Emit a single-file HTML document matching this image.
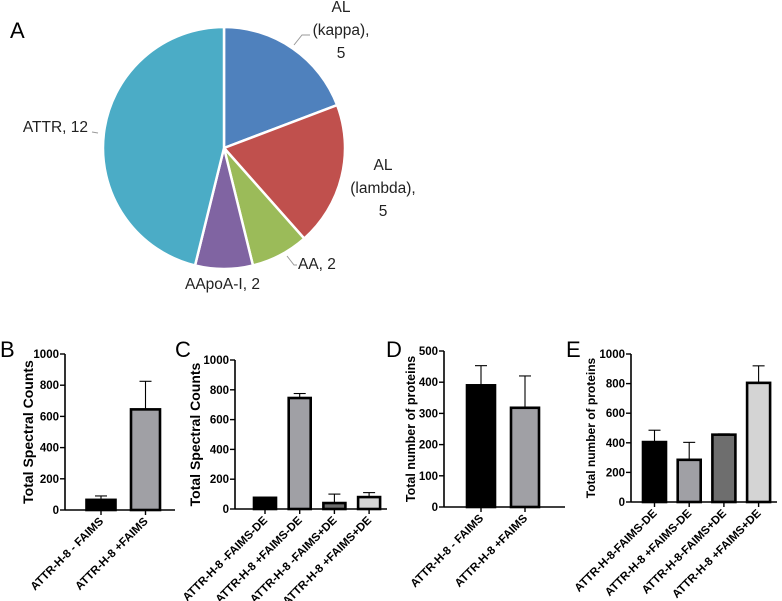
<!DOCTYPE html>
<html><head><meta charset="utf-8"><style>
body{margin:0;background:#fff;}
svg{display:block;font-family:"Liberation Sans",Arial,sans-serif;}
.t{font-weight:bold;font-size:11.5px;}
</style></head><body>
<svg id="s" width="782" height="601" viewBox="0 0 782 601"></svg>
<script>
const pieLabels=["AL (kappa)","AL (lambda)","AA","AApoA-I","ATTR"];
const pieValues=[5,5,2,2,12];
const pieColors=["#4f81bd","#c0504d","#9bbb59","#8064a2","#4bacc6"];

const bCats=["ATTR-H-8 - FAIMS","ATTR-H-8 +FAIMS"];
const bVals=[65,645];
const bErr=[90,825];
const bTicks=[0,200,400,600,800,1000];

const cCats=["ATTR-H-8 -FAIMS-DE","ATTR-H-8 +FAIMS-DE","ATTR-H-8 -FAIMS+DE","ATTR-H-8 +FAIMS+DE"];
const cVals=[75,745,40,80];
const cErr=[78,775,100,110];
const cTicks=[0,200,400,600,800,1000];

const dCats=["ATTR-H-8 - FAIMS","ATTR-H-8 +FAIMS"];
const dVals=[390,318];
const dErr=[453,420];
const dTicks=[0,100,200,300,400,500];

const eCats=["ATTR-H-8-FAIMS-DE","ATTR-H-8 +FAIMS-DE","ATTR-H-8-FAIMS+DE","ATTR-H-8 +FAIMS+DE"];
const eVals=[405,285,455,805];
const eErr=[485,403,460,920];
const eTicks=[0,200,400,600,800,1000];

const NS="http://www.w3.org/2000/svg";
const svg=document.getElementById('s');
function mk(tag,attrs,parent){const e=document.createElementNS(NS,tag);for(const k in attrs)e.setAttribute(k,attrs[k]);(parent||svg).appendChild(e);return e;}

[["A",10,38],["B",0,357],["C",175,357],["D",386,357],["E",566,357]].forEach(p=>{
  const t=mk('text',{x:p[1],y:p[2],'font-size':22});
  
  
  t.textContent=p[0];
});

const cx=224,cy=148,r=121;
const total=pieValues.reduce((a,b)=>a+b,0);
const pg=mk('g',{});


let ang=0;
pieValues.forEach((v,i)=>{
  const a0=ang,a1=ang+v/total*2*Math.PI;ang=a1;
  const x0=cx+r*Math.sin(a0),y0=cy-r*Math.cos(a0),x1=cx+r*Math.sin(a1),y1=cy-r*Math.cos(a1);
  const large=(a1-a0)>Math.PI?1:0;
  const p=mk('path',{d:`M${cx},${cy}L${x0},${y0}A${r},${r} 0 ${large} 1 ${x1},${y1}Z`,fill:pieColors[i],stroke:'#fff','stroke-width':2.5},pg);
  
  
});
const lbl=[
 [["AL","(kappa),","5"],341,12,"middle"],
 [["AL","(lambda),","5"],383,170,"middle"],
 [["AA, 2"],298,269,"start"],
 [["AApoA-I, 2"],185,289,"start"],
 [["ATTR, 12"],88,132,"end"]];
lbl.forEach((l,i)=>{
  const t=mk('text',{x:l[1],y:l[2],'font-size':15.5,'text-anchor':l[3],fill:'#222'});
  
  
  l[0].forEach((s,j)=>{const ts=mk('tspan',{x:l[1],dy:j?23:0},t);ts.textContent=s;});
});
[["M294,45 L302,35 L310,35"],["M287,256 L294,265 L297,265"],["M98,133 L92,132"]].forEach((d,i)=>{
  const p=mk('path',{d:d[0],fill:'none',stroke:'#999','stroke-width':1});
  
  
});

function bar(o){
  const g=mk('g',{});
  
  
  const ymax=o.ticks[o.ticks.length-1];
  const Y=v=>o.y0-(o.y0-o.y1)*v/ymax;
  const X=i=>o.x0+o.start+i*o.step;
  const ya=mk('line',{x1:o.ax,y1:Y(ymax),x2:o.ax,y2:o.y0,stroke:'#000','stroke-width':1.6},g);
  
  
  o.ticks.forEach(t=>{
    mk('line',{x1:o.ax-5,y1:Y(t),x2:o.ax,y2:Y(t),stroke:'#000','stroke-width':1.4},g);
    const tx=mk('text',{x:o.ax-6,y:Y(t)+4,'text-anchor':'end',class:'t'},g);
    
    
    tx.textContent=t;
  });
  const xa=mk('line',{x1:o.ax,y1:o.y0,x2:o.xend,y2:o.y0,stroke:'#000','stroke-width':1.6},g);
  
  
  const yt=mk('text',{x:0,y:0,'font-weight':'bold','font-size':o.tfs,'text-anchor':'middle',transform:`translate(${o.tx},${(Y(ymax)+o.y0)/2}) rotate(-90)`},g);
  
  
  yt.textContent=o.title;
  o.vals.forEach((v,i)=>{
    const xc=X(i);
    const el=mk('line',{x1:xc,y1:Y(o.err[i]),x2:xc,y2:Y(v),stroke:'#000','stroke-width':1.1},g);
    
    
    mk('line',{x1:xc-6,y1:Y(o.err[i]),x2:xc+6,y2:Y(o.err[i]),stroke:'#000','stroke-width':1.1},g);
    const b=mk('rect',{x:xc-o.bw/2,y:Y(v),width:o.bw,height:o.y0-Y(v),fill:o.colors[i],stroke:'#000','stroke-width':2.6},g);
    
    
    mk('line',{x1:xc,y1:o.y0,x2:xc,y2:o.y0+5,stroke:'#000','stroke-width':1.4},g);
    const lt=mk('text',{x:0,y:0,'text-anchor':'end',class:'t','font-size':o.lfs,transform:`translate(${xc+3},${o.y0+12}) rotate(-45)`},g);
    
    
    lt.textContent=o.cats[i];
  });
}
bar({name:'chart-b',cats:bCats,vals:bVals,err:bErr,ticks:bTicks,ax:65,x0:65,start:36,step:44.5,bw:29,y0:510,y1:354,xend:175,tx:33,tfs:14,lfs:10.5,title:'Total Spectral Counts',colors:['#000','#a0a0a5']});
bar({name:'chart-c',cats:cCats,vals:cVals,err:cErr,ticks:cTicks,ax:235,x0:235,start:30,step:34.7,bw:22,y0:509,y1:360,xend:387,tx:200,tfs:14,lfs:10,title:'Total Spectral Counts',colors:['#000','#a0a0a5','#6e6e6e','#d4d4d4']});
bar({name:'chart-d',cats:dCats,vals:dVals,err:dErr,ticks:dTicks,ax:444,x0:444,start:37,step:44,bw:28,y0:507,y1:351,xend:565,tx:415,tfs:12.5,lfs:10.5,title:'Total number of proteins',colors:['#000','#a0a0a5']});
bar({name:'chart-e',cats:eCats,vals:eVals,err:eErr,ticks:eTicks,ax:631,x0:631,start:23.5,step:34.7,bw:23,y0:502,y1:354,xend:777,tx:595,tfs:12,lfs:10,title:'Total number of proteins',colors:['#000','#a0a0a5','#6e6e6e','#d4d4d4']});
</script>
</body></html>
